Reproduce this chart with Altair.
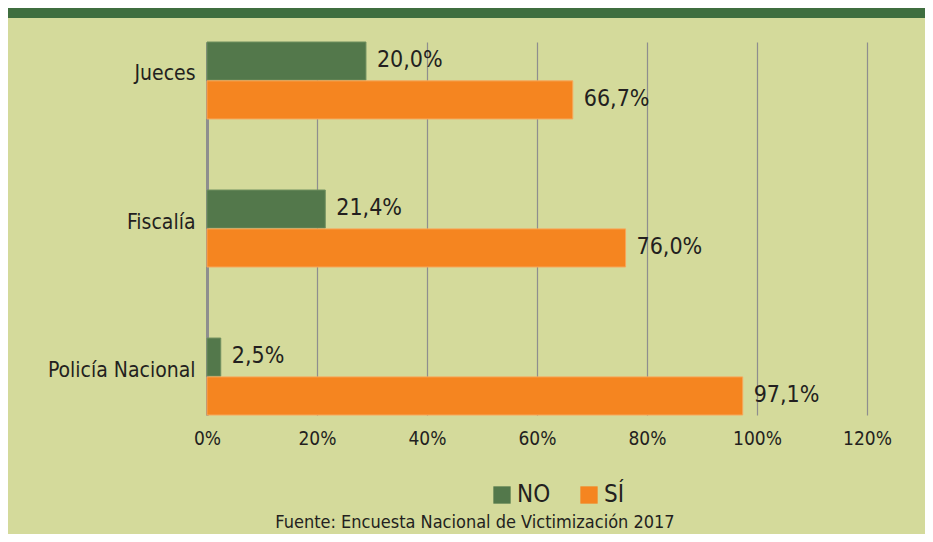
import altair as alt
import pandas as pd

categories = ["Jueces", "Fiscalía", "Policía Nacional"]
series = ["NO", "SÍ"]
no_values = [28.9, 21.5, 2.5]
si_values = [66.5, 76.1, 97.4]
no_labels = ["20,0%", "21,4%", "2,5%"]
si_labels = ["66,7%", "76,0%", "97,1%"]
x_ticks = [0, 20, 40, 60, 80, 100, 120]
source_note = ["Fuente: Encuesta Nacional de Victimización 2017"]

rows = []
for i, c in enumerate(categories):
    rows.append({"cat": c, "serie": "NO", "valor": no_values[i], "etiqueta": no_labels[i]})
    rows.append({"cat": c, "serie": "SÍ", "valor": si_values[i], "etiqueta": si_labels[i]})
df = pd.DataFrame(rows)

FONT = "Liberation Sans Narrow, DejaVu Sans Condensed, Roboto Condensed, Arial Narrow, sans-serif"
TXT = "#231f20"
BG = "#d4da9b"

y_enc = alt.Y("cat:N", sort=categories, title=None,
              scale=alt.Scale(paddingInner=0.48, paddingOuter=0),
              axis=alt.Axis(labelFontSize=21, labelColor=TXT, labelFont=FONT,
                            ticks=False, domain=True, domainColor="#8e8e8e",
                            domainWidth=3, labelPadding=12, labelOffset=-6,
                            grid=False))
x_scale = alt.Scale(domain=[0, 120], nice=False)
yoff = alt.YOffset("serie:N", sort=series, scale=alt.Scale(paddingInner=0.02))

bars = alt.Chart(df).mark_bar(strokeWidth=1).encode(
    x=alt.X("valor:Q", scale=x_scale, title=None,
            axis=alt.Axis(values=x_ticks, labelExpr="datum.value + '%'",
                          labelFontSize=19, labelColor=TXT, labelFont=FONT,
                          labelFlush=False,
                          ticks=False, domain=False, grid=True,
                          gridColor="#8e8e8e", gridWidth=1.2, labelPadding=14)),
    y=y_enc,
    yOffset=yoff,
    color=alt.Color("serie:N", sort=series,
                    scale=alt.Scale(domain=series, range=["#53784b", "#f58520"]),
                    legend=alt.Legend(title=None, orient="none", direction="horizontal",
                                      legendX=283, legendY=441, symbolType="square",
                                      symbolSize=300, symbolStrokeWidth=0,
                                      labelFontSize=24, labelFont=FONT, labelColor=TXT,
                                      labelOffset=3, columnPadding=26, padding=0)),
    stroke=alt.Stroke("serie:N", sort=series,
                      scale=alt.Scale(domain=series, range=["#6f8f5f", "#f7a75a"]),
                      legend=None),
)

labels = alt.Chart(df).mark_text(align="left", baseline="middle", dx=11, dy=-1,
                                 fontSize=23, font=FONT, color=TXT).encode(
    x=alt.X("valor:Q", scale=x_scale),
    y=alt.Y("cat:N", sort=categories),
    yOffset=yoff,
    text="etiqueta:N",
)

band = alt.Chart(pd.DataFrame({"k": [0]})).mark_rect(color="#3f6e3f").encode(
    x=alt.value(-199), x2=alt.value(720), y=alt.value(-34), y2=alt.value(-24)
)

footer = alt.Chart(pd.DataFrame({"t": source_note})).mark_text(
    align="center", baseline="middle", fontSize=18, font=FONT, color=TXT
).encode(x=alt.value(268), y=alt.value(481), text="t:N")

chart = alt.layer(band, bars, labels, footer).properties(
    width=660, height=373,
    background=BG,
    padding={"left": 199, "top": 34, "right": 58, "bottom": 119},
    autosize=alt.AutoSizeParams(type="none"),
).configure_view(stroke=None)

chart.save("out.html", embed_options={"renderer": "svg", "actions": False})
